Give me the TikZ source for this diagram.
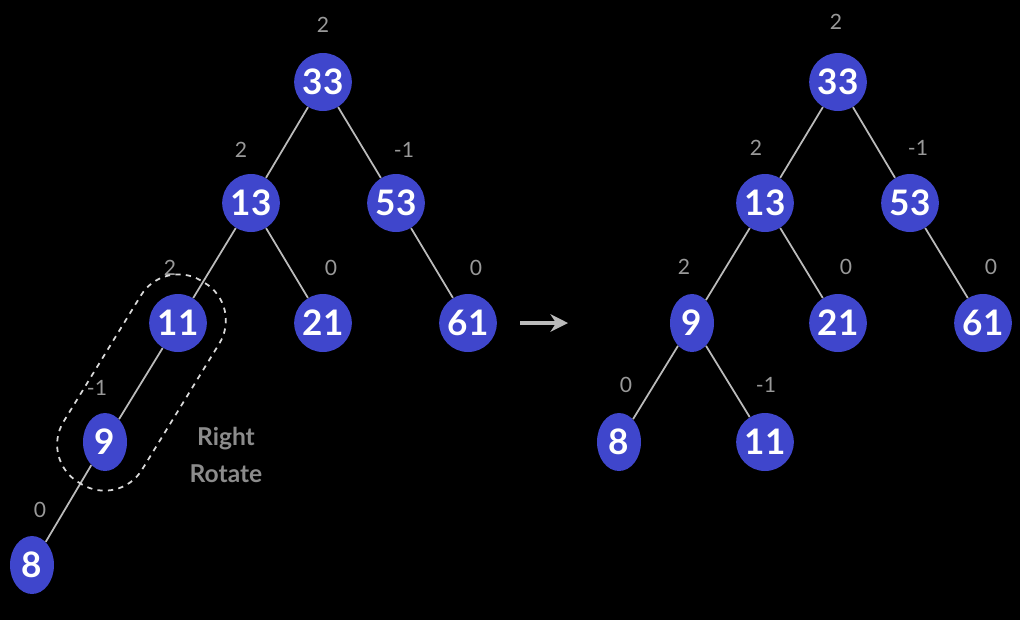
\documentclass[tikz,border=0pt]{standalone}
\usepackage{fontspec}
\setmainfont{Lato}
\usetikzlibrary{shapes.geometric,arrows.meta}
\definecolor{nb}{HTML}{3F46CC}
\definecolor{lg}{HTML}{BBBBBB}
\begin{document}
\begin{tikzpicture}[x=0.02cm,y=-0.02cm,
  tn/.style={ellipse,fill=nb,minimum width=0.88cm,minimum height=1.16cm,inner sep=0pt,text=white,font=\bfseries\fontsize{20}{20}\selectfont},
  bl/.style={text=gray!80,font=\fontsize{12}{12}\selectfont},
  ed/.style={draw=lg,line width=1pt}]
\fill[black] (0,0) rectangle (1020,620);
\useasboundingbox (0,0) rectangle (1020,620);
% left tree
\node[tn] (a33) at (323,82) {33};
\node[tn] (a13) at (251,203) {13};
\node[tn] (a53) at (396,203) {53};
\node[tn] (a11) at (178,323) {11};
\node[tn] (a21) at (323,323) {21};
\node[tn] (a61) at (468,323) {61};
\node[tn] (a9) at (105,442) {9};
\node[tn] (a8) at (32,565) {8};
\foreach \p/\c in {a33/a13,a33/a53,a13/a11,a13/a21,a53/a61,a11/a9,a9/a8} \draw[ed] (\p) -- (\c);
\node[bl] (la1) at (323,25) {2};
\node[bl] (la2) at (241,150) {2};
\node[bl] (la3) at (404,150) {-1};
\node[bl] (la4) at (170,268) {2};
\node[bl] (la5) at (331,268) {0};
\node[bl] (la6) at (476,268) {0};
\node[bl] (la7) at (97,388) {-1};
\node[bl] (la8) at (40,510) {0};
\begin{scope}[shift={(141.5,382.5)},rotate=58.5]
\draw[white!85!black,dashed,line width=1pt,rounded corners=0.88cm] (-118,-46) rectangle (118,46);
\end{scope}
\node[text=gray!90,font=\bfseries\fontsize{14}{21}\selectfont,align=center] (rr) at (226,455) {Right\\Rotate};
% arrow
\coordinate (ar1) at (520,323); \coordinate (ar2) at (568,323);
\draw[lg,line width=2.2pt,-{Stealth[length=10pt,width=10pt]}] (ar1) -- (ar2);
% right tree
\node[tn] (b33) at (838,82) {33};
\node[tn] (b13) at (765,203) {13};
\node[tn] (b53) at (910,203) {53};
\node[tn] (b9) at (692,323) {9};
\node[tn] (b21) at (838,323) {21};
\node[tn] (b61) at (983,323) {61};
\node[tn] (b8) at (619,442) {8};
\node[tn] (b11) at (765,442) {11};
\foreach \p/\c in {b33/b13,b33/b53,b13/b9,b13/b21,b53/b61,b9/b8,b9/b11} \draw[ed] (\p) -- (\c);
\node[bl] (lb1) at (836,22) {2};
\node[bl] (lb2) at (756,148) {2};
\node[bl] (lb3) at (918,148) {-1};
\node[bl] (lb4) at (684,267) {2};
\node[bl] (lb5) at (846,267) {0};
\node[bl] (lb6) at (991,267) {0};
\node[bl] (lb7) at (626,385) {0};
\node[bl] (lb8) at (766,385) {-1};
\end{tikzpicture}
\end{document}
